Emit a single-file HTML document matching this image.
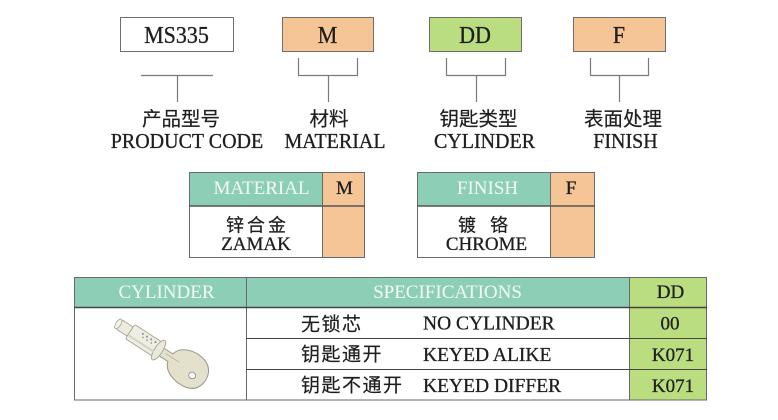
<!DOCTYPE html>
<html><head><meta charset="utf-8"><style>
html,body{margin:0;padding:0;background:#fff;}
svg{display:block;}
.s{font-family:"Liberation Serif","Noto Serif CJK SC",serif;}
.c{font-family:"Liberation Sans","Noto Sans CJK SC",sans-serif;}
</style></head><body>
<svg width="778" height="420" viewBox="0 0 778 420" xmlns="http://www.w3.org/2000/svg">
<rect width="778" height="420" fill="#fff"/>
<!-- top boxes -->
<rect x="120.5" y="17.5" width="113" height="34" fill="#fff" stroke="#6f6f6f" stroke-width="1"/>
<rect x="282.5" y="17.5" width="91" height="34" fill="#f6c596" stroke="#6f6f6f" stroke-width="1"/>
<rect x="429.5" y="17.5" width="92" height="34" fill="#badd7f" stroke="#6f6f6f" stroke-width="1"/>
<rect x="573.5" y="17.5" width="92" height="34" fill="#f6c596" stroke="#6f6f6f" stroke-width="1"/>
<g class="s" font-size="22" fill="#1e1e1e" stroke="#1e1e1e" stroke-width="0.3" text-anchor="middle">
<text x="176.5" y="43" transform="translate(0,-4.3) scale(1,1.1)">MS335</text>
<text x="327.5" y="43" transform="translate(0,-4.3) scale(1,1.1)">M</text>
<text x="475" y="43" transform="translate(0,-4.3) scale(1,1.1)">DD</text>
<text x="619" y="43" transform="translate(0,-4.3) scale(1,1.1)">F</text>
</g>
<!-- brackets -->
<g stroke="#7a7a7a" stroke-width="1.2" fill="none">
<path d="M141 75.5 H213 M177.5 75.5 V102"/>
<path d="M298.5 58 V75.5 H357.5 V58 M328.5 75.5 V102"/>
<path d="M446.5 58 V75.5 H505.5 V58 M476.5 75.5 V102"/>
<path d="M590.5 58 V75.5 H648.5 V58 M619.5 75.5 V102"/>
</g>
<!-- top labels -->
<g class="c" font-size="19.5" fill="#1e1e1e" stroke="#1e1e1e" stroke-width="0.2" text-anchor="middle">
<text x="181" y="125.5">产品型号</text>
<text x="329" y="125.5">材料</text>
<text x="478.5" y="125.5">钥匙类型</text>
<text x="623" y="125.5">表面处理</text>
</g>
<g class="s" font-size="20" fill="#1e1e1e" stroke="#1e1e1e" stroke-width="0.3" text-anchor="middle">
<text x="187" y="148" transform="translate(0,-7.4) scale(1,1.05)">PRODUCT CODE</text>
<text x="335" y="148" transform="translate(0,-7.4) scale(1,1.05)">MATERIAL</text>
<text x="484.5" y="148" transform="translate(0,-7.4) scale(1,1.05)">CYLINDER</text>
<text x="625.5" y="148" transform="translate(0,-7.4) scale(1,1.05)">FINISH</text>
</g>
<!-- material table -->
<rect x="189" y="172" width="133" height="34" fill="#8dcfb6"/>
<rect x="322" y="172" width="43" height="86" fill="#f6c596"/>
<rect x="189" y="206" width="133" height="52" fill="#fff"/>
<g stroke="#6a6a6a" stroke-width="1" fill="none">
<rect x="189.5" y="172.5" width="175" height="85"/>
<path d="M322.5 172 V258"/>
</g>
<path d="M189 206 H365" stroke="#555" stroke-width="1.5"/>
<!-- finish table -->
<rect x="417" y="172" width="133" height="34" fill="#8dcfb6"/>
<rect x="550" y="172" width="45" height="86" fill="#f6c596"/>
<rect x="417" y="206" width="133" height="52" fill="#fff"/>
<g stroke="#6a6a6a" stroke-width="1" fill="none">
<rect x="417.5" y="172.5" width="177" height="85"/>
<path d="M550.5 172 V258"/>
</g>
<path d="M417 206 H595" stroke="#555" stroke-width="1.5"/>
<g class="s" font-size="19" text-anchor="middle">
<text x="261.5" y="194" fill="#f4fbf8">MATERIAL</text>
<text x="487.5" y="194" fill="#f4fbf8">FINISH</text>
<text x="344.5" y="194" fill="#1e1e1e" stroke="#1e1e1e" stroke-width="0.3">M</text>
<text x="571" y="194" fill="#1e1e1e" stroke="#1e1e1e" stroke-width="0.3">F</text>
<text x="256" y="250" fill="#1e1e1e" stroke="#1e1e1e" stroke-width="0.3">ZAMAK</text>
<text x="486.5" y="250" fill="#1e1e1e" stroke="#1e1e1e" stroke-width="0.3">CHROME</text>
</g>
<g class="c" font-size="18" fill="#1e1e1e" stroke="#1e1e1e" stroke-width="0.2" text-anchor="middle">
<text x="257.5" y="231.5" letter-spacing="3">锌合金</text>
<text x="467" y="231.5">镀</text>
<text x="499" y="231.5">铬</text>
</g>
<!-- big table -->
<rect x="74" y="277" width="555" height="30" fill="#8dcfb6"/>
<rect x="629" y="277" width="78" height="123" fill="#badd7f"/>
<g stroke="#6a6a6a" stroke-width="1" fill="none">
<rect x="74.5" y="277.5" width="632" height="122.5"/>
<path d="M246.5 277 V400 M629.5 277 V400"/>
<path d="M246 338.5 H707 M246 369.5 H707" stroke="#444"/>
</g>
<path d="M74 307.5 H707" stroke="#444" stroke-width="1.5"/>
<g class="s" font-size="19" text-anchor="middle">
<text x="166.5" y="298" fill="#f4fbf8">CYLINDER</text>
<text x="447.5" y="298" fill="#f4fbf8">SPECIFICATIONS</text>
<g fill="#1e1e1e" stroke="#1e1e1e" stroke-width="0.3">
<text x="670.5" y="298">DD</text>
<text x="670" y="329.5">00</text>
<text x="673" y="361">K071</text>
<text x="673" y="392">K071</text>
</g>
</g>
<g class="s" font-size="19.5" fill="#1e1e1e" stroke="#1e1e1e" stroke-width="0.3">
<text x="423" y="329.5">NO CYLINDER</text>
<text x="423" y="361">KEYED ALIKE</text>
<text x="423" y="392">KEYED DIFFER</text>
</g>
<g class="c" font-size="19" fill="#1e1e1e" stroke="#1e1e1e" stroke-width="0.2" letter-spacing="1.5">
<text x="301" y="330.5">无锁芯</text>
<text x="301" y="360.5">钥匙通开</text>
<text x="301" y="391.5">钥匙不通开</text>
</g>
<!-- key & cylinder illustration -->
<g transform="translate(120,325) rotate(33)">
<!-- key head -->
<path d="M48 -4.5 L60 -4.5 Q63 -16 80 -18 Q101 -18 102 0 Q101 18 80 17 Q63 15 60 4.5 L48 4.5 Z" fill="#e3e0cc" stroke="#9c9a88" stroke-width="1"/>
<ellipse cx="88" cy="3" rx="3.5" ry="3.2" fill="#fff" stroke="#8a8878" stroke-width="0.8"/>
<path d="M54 -1 L70 -1" stroke="#b3b19f" stroke-width="0.8"/>
<!-- body -->
<rect x="-2" y="-5.5" width="15" height="11" rx="3" fill="#ecebde" stroke="#a4a396" stroke-width="0.9"/>
<ellipse cx="-2" cy="0" rx="2.5" ry="5.5" fill="#f4f3ea" stroke="#a4a396" stroke-width="0.8"/>
<rect x="12" y="-8.5" width="32" height="17" rx="2" fill="#efeee3" stroke="#a4a396" stroke-width="0.9"/>
<ellipse cx="46" cy="0" rx="4" ry="11.5" fill="#e9e8da" stroke="#a4a396" stroke-width="0.9"/>
<g fill="#8d8c80">
<circle cx="24" cy="-5" r="1"/><circle cx="29" cy="-5" r="1"/><circle cx="34" cy="-5" r="1"/><circle cx="39" cy="-5" r="1"/>
<circle cx="26" cy="-2" r="0.8"/><circle cx="31" cy="-2" r="0.8"/><circle cx="36" cy="-2" r="0.8"/>
</g>
<path d="M13 4 H43" stroke="#d3d2c4" stroke-width="2"/>
</g>
</svg>
</body></html>
